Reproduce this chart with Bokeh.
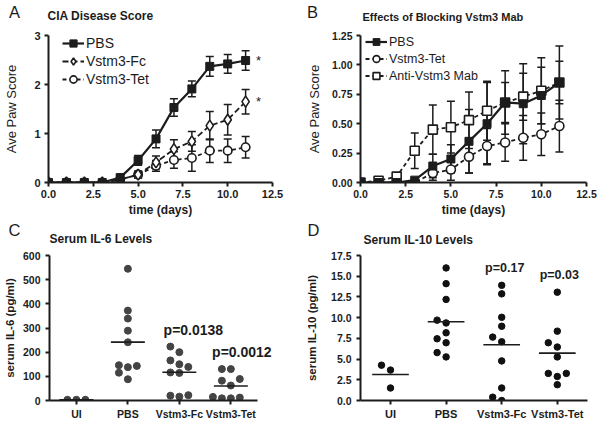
import numpy as np
from bokeh.plotting import figure
from bokeh.models import (Range1d, FixedTicker, NumeralTickFormatter, Label, Legend,
                          LegendItem, Whisker, TeeHead, ColumnDataSource)
from bokeh.layouts import column, row
from bokeh.embed import file_html
from bokeh.resources import INLINE
from bokeh.core.properties import value

# ---------------- data ----------------
# Panel A: CIA Disease Score
days_a = [0, 1, 2, 3, 4, 5, 6, 7, 8, 9, 10, 11]
a_pbs = [0, 0, 0, 0, 0.10, 0.45, 0.89, 1.53, 1.91, 2.37, 2.42, 2.49]
a_pbs_err = [0, 0, 0, 0, 0.03, 0.10, 0.18, 0.18, 0.16, 0.20, 0.19, 0.20]
a_fc = [0, 0, 0, 0, 0.06, 0.16, 0.41, 0.68, 0.84, 1.16, 1.28, 1.65]
a_fc_err = [0, 0, 0, 0, 0.02, 0.07, 0.13, 0.19, 0.20, 0.29, 0.31, 0.25]
a_tet = [0, 0, 0, 0, 0.06, 0.16, 0.34, 0.46, 0.50, 0.65, 0.65, 0.72]
a_tet_err = [0, 0, 0, 0, 0.02, 0.07, 0.11, 0.17, 0.27, 0.24, 0.24, 0.22]
a_x_ticks = [0, 2.5, 5, 7.5, 10, 12.5]
a_y_ticks = [0, 1, 2, 3]

# Panel B: Effects of Blocking Vstm3 Mab
days_b = [0, 1, 2, 3, 4, 5, 6, 7, 8, 9, 10, 11]
b_pbs = [0, 0, 0, 0.02, 0.14, 0.20, 0.35, 0.50, 0.68, 0.67, 0.74, 0.85]
b_pbs_err = [0, 0, 0, 0.02, 0.10, 0.12, 0.27, 0.35, 0.27, 0.34, 0.24, 0.31]
b_tet = [0, 0, 0, 0, 0.08, 0.11, 0.22, 0.31, 0.34, 0.38, 0.41, 0.48]
b_tet_err = [0, 0, 0, 0, 0.06, 0.09, 0.14, 0.15, 0.16, 0.19, 0.18, 0.22]
b_mab = [0, 0.015, 0.05, 0.27, 0.45, 0.47, 0.53, 0.61, 0.68, 0.73, 0.78, 0.85]
b_mab_err = [0, 0.01, 0.02, 0.15, 0.21, 0.22, 0.24, 0.25, 0.17, 0.20, 0.28, 0.18]
b_x_ticks = [0, 2.5, 5, 7.5, 10, 12.5]
b_y_ticks = [0, 0.25, 0.5, 0.75, 1.0, 1.25]

# Panels C/D: serum cytokines
groups = ["UI", "PBS", "Vstm3-Fc", "Vstm3-Tet"]
c_ui = [3, 3, 3]
c_pbs = [545, 372, 339, 289, 241, 146, 143, 138, 115, 88]
c_fc = [223, 200, 166, 150, 139, 116, 114, 22, 20, 16]
c_tet = [130, 130, 89, 82, 62, 15, 12, 9, 9]
c_pvals = {"Vstm3-Fc": "p=0.0138", "Vstm3-Tet": "p=0.0012"}
c_y_ticks = [0, 100, 200, 300, 400, 500, 600]

d_ui = [4.26, 3.67, 1.51]
d_pbs = [16.0, 14.1, 12.2, 9.7, 9.36, 8.17, 7.45, 6.97, 5.78, 5.26]
d_fc = [13.9, 12.87, 10.04, 8.96, 7.65, 7.09, 4.78, 1.51, 0.4, 0.0]
d_tet = [13.07, 8.37, 6.97, 6.45, 5.26, 3.27, 3.27, 2.9, 1.91]
d_pvals = {"Vstm3-Fc": "p=0.17", "Vstm3-Tet": "p=0.03"}
d_y_ticks = [0, 2.5, 5, 7.5, 10, 12.5, 15, 17.5]

# ---------------- style ----------------
FONT = "Liberation Sans"
INK = "#1c1c1c"


def base_fig(w, h, left, right, top, bottom, xr, yr):
    p = figure(width=w, height=h, x_range=xr, y_range=yr, title=None,
               output_backend="svg", toolbar_location=None,
               min_border_left=left, min_border_right=right,
               min_border_top=top, min_border_bottom=bottom)
    p.outline_line_color = None
    p.grid.visible = False
    p.background_fill_color = "white"
    p.border_fill_color = "white"
    for ax in (p.xaxis[0], p.yaxis[0]):
        ax.axis_line_width = 2
        ax.axis_line_color = INK
        ax.major_tick_line_width = 2
        ax.major_tick_line_color = INK
        ax.major_tick_out = 4
        ax.major_tick_in = 0
        ax.minor_tick_line_color = None
        ax.major_label_text_font = FONT
        ax.major_label_text_font_style = "bold"
        ax.major_label_text_color = INK
        ax.axis_label_text_font = FONT
        ax.axis_label_text_color = INK
    return p


def header(w, h):
    p = figure(width=w, height=h, x_range=Range1d(0, 1), y_range=Range1d(0, 1),
               title=None, output_backend="svg", toolbar_location=None,
               x_axis_location=None, y_axis_location=None,
               min_border_left=0, min_border_right=0, min_border_top=0,
               min_border_bottom=0)
    p.outline_line_color = None
    p.grid.visible = False
    return p


def text(p, x, y, s, size, bold=False, align="left"):
    p.add_layout(Label(x=x, y=y, x_units="screen", y_units="screen", text=s,
                       text_font=FONT, text_font_size=size,
                       text_font_style="bold" if bold else "normal",
                       text_color=INK, text_align=align, text_baseline="middle"))


def whiskers(p, xs, ys, errs, head=8):
    keep = [i for i, e in enumerate(errs) if e > 0]
    src = ColumnDataSource(dict(x=[xs[i] for i in keep],
                                up=[ys[i] + errs[i] for i in keep],
                                lo=[ys[i] - errs[i] for i in keep]))
    w = Whisker(source=src, base="x", upper="up", lower="lo", dimension="height",
                line_color=INK, line_width=1.5, level="underlay",
                upper_head=TeeHead(size=head, line_color=INK, line_width=1.5),
                lower_head=TeeHead(size=head, line_color=INK, line_width=1.5))
    p.add_layout(w)


def style_legend(leg, size, gh):
    leg.border_line_color = None
    leg.background_fill_alpha = 0
    leg.padding = 0
    leg.margin = 0
    leg.spacing = 0
    leg.glyph_width = 22
    leg.glyph_height = gh
    leg.label_height = gh
    leg.label_standoff = 2
    leg.label_text_font = FONT
    leg.label_text_font_size = size
    leg.label_text_color = INK


# ---------------- headers ----------------
hdr1 = header(600, 27)
text(hdr1, 14, 16, "A", "16.5px", align="center")
text(hdr1, 47, 11.5, "CIA Disease Score", "12px", bold=True)
text(hdr1, 312, 16, "B", "16.5px", align="center")
text(hdr1, 362, 10.5, "Effects of Blocking Vstm3 Mab", "11px", bold=True)

hdr2 = header(600, 27)
text(hdr2, 14, 17, "C", "16.5px", align="center")
text(hdr2, 49, 7.5, "Serum IL-6 Levels", "12px", bold=True)
text(hdr2, 313, 17, "D", "16.5px", align="center")
text(hdr2, 363, 7, "Serum IL-10 Levels", "12px", bold=True)

# ---------------- Panel A ----------------
AW, AH, AL, AR, AT, AB = 300, 192, 48, 28, 8, 36
afh = AH - AT - AB
pA = base_fig(AW, AH, AL, AR, AT, AB,
              Range1d(0, a_x_ticks[-1]), Range1d(0, a_y_ticks[-1]))
pA.xaxis.ticker = FixedTicker(ticks=a_x_ticks)
pA.yaxis.ticker = FixedTicker(ticks=a_y_ticks)
pA.xaxis.formatter = NumeralTickFormatter(format="0.0")
pA.xaxis.major_label_standoff = 3
pA.yaxis.major_label_standoff = 4
pA.xaxis.major_label_text_font_size = "11px"
pA.yaxis.major_label_text_font_size = "11px"
pA.xaxis.axis_label = "time (days)"
pA.xaxis.axis_label_text_font_size = "12px"
pA.xaxis.axis_label_text_font_style = "bold"
pA.xaxis.axis_label_standoff = 2
pA.yaxis.axis_label = "Ave Paw Score"
pA.yaxis.axis_label_text_font_size = "13px"
pA.yaxis.axis_label_text_font_style = "normal"
pA.yaxis.axis_label_standoff = 12

whiskers(pA, days_a, a_pbs, a_pbs_err)
whiskers(pA, days_a, a_fc, a_fc_err)
whiskers(pA, days_a, a_tet, a_tet_err)
lt = pA.line(days_a, a_tet, line_color=INK, line_width=1.8, line_dash="4 3")
st = pA.scatter(days_a, a_tet, marker="circle", size=8.5, fill_color="white",
                line_color=INK, line_width=1.6)
lf = pA.line(days_a, a_fc, line_color=INK, line_width=1.8, line_dash="6 3")
sf = pA.scatter(days_a, a_fc, marker="diamond", size=11, fill_color="white",
                line_color=INK, line_width=1.6)
lp = pA.line(days_a, a_pbs, line_color=INK, line_width=2.2)
sp = pA.scatter(days_a, a_pbs, marker="square", size=8, fill_color=INK,
                line_color=INK)
pA.text(x=[days_a[-1] + 0.72, days_a[-1] + 0.72], y=[a_pbs[-1], a_fc[-1]],
        text=["*", "*"], text_font=value(FONT), text_font_size="13px",
        text_align="center", text_baseline="middle", text_color=INK)
legA = Legend(items=[LegendItem(label="PBS", renderers=[lp, sp]),
                     LegendItem(label="Vstm3-Fc", renderers=[lf, sf]),
                     LegendItem(label="Vstm3-Tet", renderers=[lt, st])])
style_legend(legA, "14px", 18)
legA.location = (14, afh - 3 * 18)
pA.add_layout(legA)

# ---------------- Panel B ----------------
BW, BH, BL, BR, BT, BB = 300, 192, 60, 14, 8, 35
bfh = BH - BT - BB
pB = base_fig(BW, BH, BL, BR, BT, BB,
              Range1d(0, b_x_ticks[-1]), Range1d(0, b_y_ticks[-1]))
pB.xaxis.ticker = FixedTicker(ticks=b_x_ticks)
pB.yaxis.ticker = FixedTicker(ticks=b_y_ticks)
pB.xaxis.formatter = NumeralTickFormatter(format="0.0")
pB.yaxis.formatter = NumeralTickFormatter(format="0.00")
pB.xaxis.major_label_standoff = 3
pB.yaxis.major_label_standoff = 4
pB.xaxis.major_label_text_font_size = "10.5px"
pB.yaxis.major_label_text_font_size = "10.5px"
pB.xaxis.axis_label = "time (days)"
pB.xaxis.axis_label_text_font_size = "12px"
pB.xaxis.axis_label_text_font_style = "bold"
pB.xaxis.axis_label_standoff = 2
pB.yaxis.axis_label = "Ave Paw Score"
pB.yaxis.axis_label_text_font_size = "13px"
pB.yaxis.axis_label_text_font_style = "normal"
pB.yaxis.axis_label_standoff = 7

whiskers(pB, days_b, b_pbs, b_pbs_err)
whiskers(pB, days_b, b_tet, b_tet_err)
whiskers(pB, days_b, b_mab, b_mab_err)
lbt = pB.line(days_b, b_tet, line_color=INK, line_width=1.8, line_dash="4 3")
sbt = pB.scatter(days_b, b_tet, marker="circle", size=9, fill_color="white",
                 line_color=INK, line_width=1.6)
lbm = pB.line(days_b, b_mab, line_color=INK, line_width=1.8, line_dash="4 3")
sbm = pB.scatter(days_b, b_mab, marker="square", size=9, fill_color="white",
                 line_color=INK, line_width=1.6)
lbp = pB.line(days_b, b_pbs, line_color=INK, line_width=2.2)
sbp = pB.scatter(days_b, b_pbs, marker="square", size=8, fill_color=INK,
                 line_color=INK)
legB = Legend(items=[LegendItem(label="PBS", renderers=[lbp, sbp]),
                     LegendItem(label="Vstm3-Tet", renderers=[lbt, sbt]),
                     LegendItem(label="Anti-Vstm3 Mab", renderers=[lbm, sbm])])
style_legend(legB, "12.5px", 17)
legB.location = (5, bfh - 3 * 17)
pB.add_layout(legB)


# ---------------- Panels C / D ----------------
def swarm(vals, px_x, px_y, step_px=9.0, min_px=7.0):
    order = sorted(range(len(vals)), key=lambda i: vals[i])
    placed, offs = [], [0.0] * len(vals)
    for i in order:
        sy = vals[i] * px_y
        sx = 0.0
        for k in (0, -1, 1, -2, 2, -3, 3):
            sx = k * step_px
            if all((sx - qx) ** 2 + (sy - qy) ** 2 >= min_px ** 2 for qx, qy in placed):
                break
        placed.append((sx, sy))
        offs[i] = sx / px_x
    return offs


def scatter_panel(W, H, L, R, T, Bm, first_px, spacing_px, axis_px, yticks, data,
                  pvals, ptxt_size, p_dx, dot_color, dot_size, fmt, ylabel, lab_sd,
                  cat_size):
    fw, fh = W - L - R, H - T - Bm
    y_s = fh / yticks[-1]
    x0 = 1 - first_px / spacing_px
    p = base_fig(W, H, L, R, T, Bm, Range1d(x0, x0 + fw / spacing_px),
                 Range1d(0, yticks[-1]))
    pos = list(range(1, len(groups) + 1))
    p.xaxis.ticker = FixedTicker(ticks=pos)
    p.xaxis.major_label_overrides = {i: g for i, g in zip(pos, groups)}
    p.xaxis.bounds = (x0, x0 + axis_px / spacing_px)
    p.xaxis.major_label_standoff = 3
    p.xaxis.major_label_text_font_size = cat_size
    p.yaxis.ticker = FixedTicker(ticks=yticks)
    p.yaxis.major_label_standoff = 5
    p.yaxis.major_label_text_font_size = "10.5px"
    p.yaxis.axis_label = ylabel
    p.yaxis.axis_label_text_font_size = "11.5px"
    p.yaxis.axis_label_text_font_style = "bold"
    p.yaxis.axis_label_standoff = lab_sd
    if fmt:
        p.yaxis.formatter = NumeralTickFormatter(format=fmt)
    xs, ys = [], []
    for gi, vals in zip(pos, data):
        offs = swarm(vals, spacing_px, y_s)
        xs += [gi + o for o in offs]
        ys += list(vals)
    p.scatter(xs, ys, marker="circle", size=dot_size, fill_color=dot_color,
              line_color=dot_color)
    means = [float(np.mean(v)) for v in data]
    p.segment(x0=[g - 0.33 for g in pos], y0=means, x1=[g + 0.33 for g in pos],
              y1=means, line_color=INK, line_width=1.6)
    for g, s in pvals.items():
        gi = groups.index(g)
        p.add_layout(Label(x=pos[gi], y=max(data[gi]), x_units="data", y_units="data",
                           x_offset=p_dx[g], y_offset=17, text=s, text_font=FONT,
                           text_font_size=ptxt_size, text_font_style="bold",
                           text_color=INK, text_align="center", text_baseline="middle"))
    return p


pC = scatter_panel(300, 178, 48, 10, 8, 24, 27, 51.7, 208.7, c_y_ticks,
                   [c_ui, c_pbs, c_fc, c_tet], c_pvals, "14px",
                   {"Vstm3-Fc": 14, "Vstm3-Tet": 11}, "#444444", 7, None,
                   "serum IL-6 (pg/ml)", 4, "10.5px")
pD = scatter_panel(300, 178, 60, 13, 9, 24, 30, 55.6, 227, d_y_ticks,
                   [d_ui, d_pbs, d_fc, d_tet], d_pvals, "12.5px",
                   {"Vstm3-Fc": 3, "Vstm3-Tet": 2}, "#111111", 6.5, "0.0",
                   "serum IL-10 (pg/ml)", 10, "11px")

layout = column(hdr1, row(pA, pB), hdr2, row(pC, pD))
open("out.html", "w").write(file_html(layout, INLINE, "Vstm3 figure"))
